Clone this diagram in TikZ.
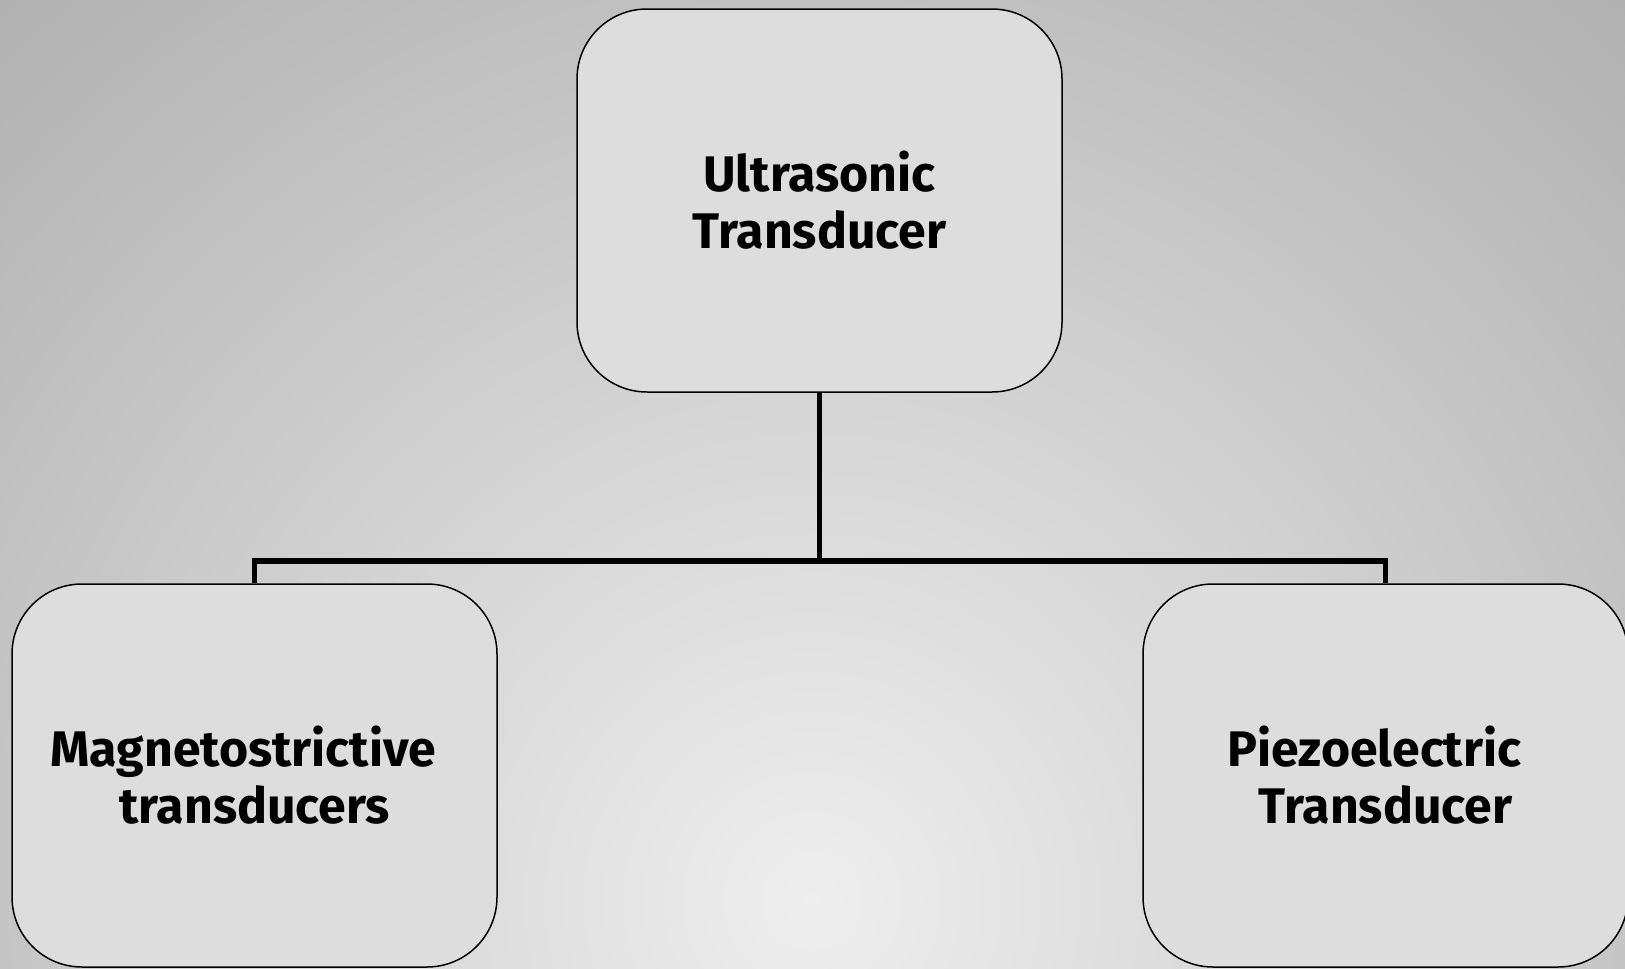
\documentclass[tikz,border=0pt]{standalone}
\usepackage{fontspec}
\setmainfont{Fira Sans}
\usepackage{tikz}
\usepackage{xcolor}
\definecolor{bginner}{HTML}{EEEEEE}
\definecolor{bgouter}{HTML}{AFAFAF}
\definecolor{boxfill}{HTML}{DDDDDD}
\tikzset{
    typebox/.style={draw=black, line width=1.5pt, fill=boxfill, rounded corners=70pt,
        minimum width=485pt, minimum height=383pt, inner sep=0pt, align=center,
        font=\fontsize{50}{57}\selectfont\bfseries},
    busline/.style={draw=black, line width=5.5pt}
}

\begin{document}
\begin{tikzpicture}[x=1pt, y=-1pt]
    \useasboundingbox (0,0) rectangle (1625,969);
    \clip (0,0) rectangle (1625,969);
    \shade[inner color=bginner, outer color=bgouter] (812,900) circle (1250);
    \node[typebox] (ultra) at (819.5,200.5) {Ultrasonic\\Transducer};
    \node[typebox] (magneto) at (254.5,775.5) {Magnetostrictive\hspace*{0.45em}\\transducers};
    \node[typebox] (piezo) at (1385.5,775.5) {Piezoelectric\hspace*{0.45em}\\Transducer};
    \coordinate (bus) at (0,561);
    \draw[busline] (ultra.south) -- (ultra.south |- bus);
    \draw[busline] (magneto.north) |- (ultra.south |- bus) -| (piezo.north);
\end{tikzpicture}
\end{document}
